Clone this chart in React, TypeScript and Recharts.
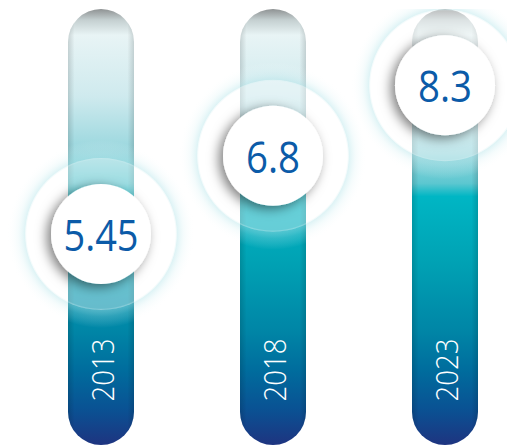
import { Bar, BarChart, XAxis, YAxis } from "recharts";

const YEARS = ["2013", "2018", "2023"];
const VALUES = [5.45, 6.8, 8.3];
const VALUE_LABELS = ["5.45", "6.8", "8.3"];

const data = YEARS.map((year, i) => ({
  year,
  value: VALUES[i],
  label: VALUE_LABELS[i],
}));

const LABEL_BLUE = "#0b5ba8";

// rough glyph widths so the condensed look of the original font is kept
const labelWidth = (s: string) =>
  s.split("").reduce((w, ch) => w + (ch === "." ? 12 : 21), 0);

function Pill(props: any) {
  const { x, y, width, height } = props;
  if (width == null || height == null) return null;
  return (
    <g>
      <rect
        x={x}
        y={y}
        width={width}
        height={height}
        rx={width / 2}
        ry={width / 2}
        fill="url(#pillFill)"
      />
      <rect
        x={x}
        y={y}
        width={width}
        height={height}
        rx={width / 2}
        ry={width / 2}
        fill="url(#pillSides)"
      />
    </g>
  );
}

function Marker(props: any) {
  const { x, y, width, height, payload } = props;
  const cx = x + width / 2;
  const bottom = y + height;
  const yearY = bottom - 75;
  return (
    <g>
      <circle cx={cx} cy={y} r={94} fill="url(#haloGlow)" />
      <circle cx={cx} cy={y} r={76} fill="#ffffff" fillOpacity={0.4} />
      <circle cx={cx} cy={y} r={50} fill="#ffffff" filter="url(#discShadow)" />
      <text
        x={cx}
        y={y}
        textAnchor="middle"
        dominantBaseline="central"
        fontFamily="'Open Sans', 'Noto Sans', sans-serif"
        fontSize={44}
        fill={LABEL_BLUE}
        textLength={labelWidth(payload.label)}
        lengthAdjust="spacingAndGlyphs"
      >
        {payload.label}
      </text>
      <text
        x={cx}
        y={yearY}
        transform={`rotate(-90 ${cx} ${yearY})`}
        textAnchor="middle"
        dominantBaseline="central"
        fontFamily="'Open Sans', 'Noto Sans', sans-serif"
        fontWeight={300}
        fontSize={32}
        fill="#ffffff"
        textLength={63}
        lengthAdjust="spacingAndGlyphs"
      >
        {payload.year}
      </text>
    </g>
  );
}

export default function App() {
  return (
    <div
      style={{
        position: "absolute",
        left: 0,
        top: 0,
        width: 507,
        height: 446,
        overflow: "hidden",
        background: "#fff",
      }}
    >
      <BarChart
        width={531}
        height={446}
        data={data}
        margin={{ top: 9, right: 0, bottom: 1, left: 15 }}
        barSize={66}
      >
        <defs>
          <linearGradient id="pillFill" x1="0" y1="0" x2="0" y2="1">
            <stop offset="0%" stopColor="#8e9293" />
            <stop offset="2.5%" stopColor="#c4cfd0" />
            <stop offset="6%" stopColor="#e8f4f5" />
            <stop offset="20%" stopColor="#cfeaee" />
            <stop offset="33%" stopColor="#97d6dd" />
            <stop offset="40%" stopColor="#5cc7d0" />
            <stop offset="43%" stopColor="#00b6c4" />
            <stop offset="58%" stopColor="#00a2b4" />
            <stop offset="74%" stopColor="#0085a6" />
            <stop offset="83%" stopColor="#006c9d" />
            <stop offset="92%" stopColor="#0a5193" />
            <stop offset="100%" stopColor="#1e3480" />
          </linearGradient>
          <linearGradient id="pillSides" x1="0" y1="0" x2="1" y2="0">
            <stop offset="0%" stopColor="#000" stopOpacity={0.14} />
            <stop offset="10%" stopColor="#000" stopOpacity={0} />
            <stop offset="90%" stopColor="#000" stopOpacity={0} />
            <stop offset="100%" stopColor="#000" stopOpacity={0.14} />
          </linearGradient>
          <radialGradient id="haloGlow" cx="50%" cy="50%" r="50%">
            <stop offset="79%" stopColor="#b5e5ea" stopOpacity={0} />
            <stop offset="80.9%" stopColor="#b5e5ea" stopOpacity={0.45} />
            <stop offset="88%" stopColor="#d2f0f3" stopOpacity={0.22} />
            <stop offset="100%" stopColor="#ffffff" stopOpacity={0} />
          </radialGradient>
          <filter id="discShadow" x="-50%" y="-50%" width="200%" height="200%">
            <feDropShadow
              dx={-4}
              dy={3}
              stdDeviation={6}
              floodColor="#000"
              floodOpacity={0.5}
            />
          </filter>
        </defs>
        <XAxis dataKey="year" hide />
        <YAxis
          hide
          type="number"
          scale="log"
          domain={[3, 10.3]}
          allowDataOverflow
        />
        <Bar
          dataKey="value"
          background={<Pill />}
          shape={<Marker />}
          isAnimationActive={false}
        />
      </BarChart>
    </div>
  );
}
